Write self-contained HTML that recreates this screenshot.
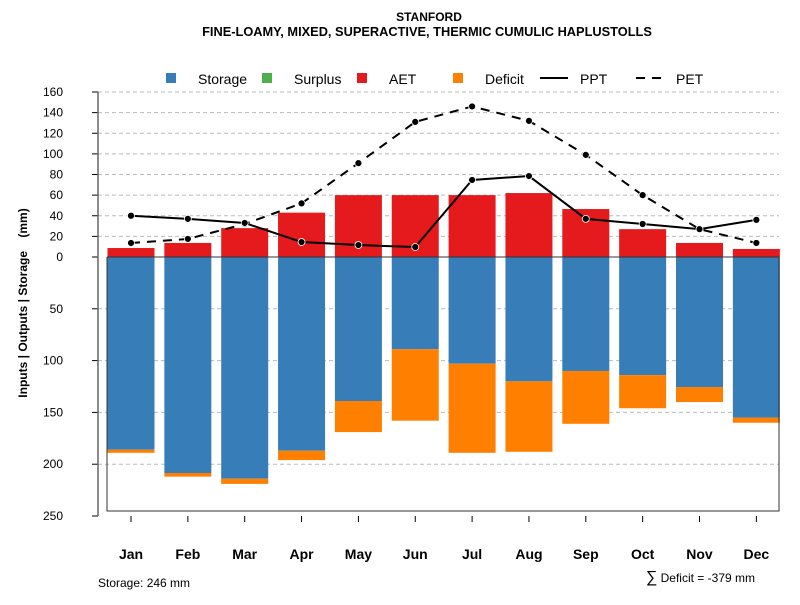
<!DOCTYPE html>
<html><head><meta charset="utf-8"><style>
body{margin:0;background:#fff}
svg text{font-family:"Liberation Sans",Arial,sans-serif}
</style></head><body>
<svg id="c" width="800" height="600" xmlns="http://www.w3.org/2000/svg">
<text x="429" y="21" text-anchor="middle" font-size="12" font-weight="bold">STANFORD</text>
<text x="427" y="36" text-anchor="middle" font-size="12.8" font-weight="bold">FINE-LOAMY, MIXED, SUPERACTIVE, THERMIC CUMULIC HAPLUSTOLLS</text>
<g id="legend">
<rect x="166" y="73" width="10" height="10" fill="#377eb8"/>
<text x="198" y="84" font-size="14">Storage</text>
<rect x="262" y="73" width="10" height="10" fill="#4daf4a"/>
<text x="294" y="84" font-size="14">Surplus</text>
<rect x="357" y="73" width="10" height="10" fill="#e41a1c"/>
<text x="389" y="84" font-size="14">AET</text>
<rect x="453" y="73" width="10" height="10" fill="#ff7f00"/>
<text x="485" y="84" font-size="14">Deficit</text>
<line x1="540" y1="78" x2="568" y2="78" stroke="#000" stroke-width="2"/>
<text x="580" y="84" font-size="14">PPT</text>
<line x1="636" y1="78" x2="666" y2="78" stroke="#000" stroke-width="2" stroke-dasharray="9,7"/>
<text x="676" y="84" font-size="14">PET</text>
</g>
<text transform="translate(27,303) rotate(-90)" text-anchor="middle" font-size="12" font-weight="bold">Inputs | Outputs | Storage&#160;&#160;&#160;&#160;(mm)</text>
<text x="98" y="587" font-size="12">Storage: 246 mm</text>
<text x="755" y="582" text-anchor="end" font-size="12"><tspan font-size="16">∑</tspan> Deficit = -379 mm</text>
<g id="grid"></g><g id="bars"></g><g id="lines"></g><g id="axes"></g>
</svg>
<script>
const months=["Jan","Feb","Mar","Apr","May","Jun","Jul","Aug","Sep","Oct","Nov","Dec"];
const aet=[8.7,13.6,28,43,60,60,60,62,46.5,27,13.6,7.8];
const storage=[186,208.5,214,187,139,89,103,120,110,114,125.5,155];
const deficit=[3,3.5,5,9,30,69,86,68,51,32,14.5,5];
const ppt=[40,37,33,14.5,11.6,9.7,74.7,78.5,37,32,27,36];
const pet=[13.6,17.5,32,52,91,131,146,132,99,60,27,13.6];
const topTicks=[0,20,40,60,80,100,120,140,160];
const botTicks=[50,100,150,200,250];
const NS="http://www.w3.org/2000/svg";
const y0=257;
const yUp=v=>y0-v*165/160;
const yDn=v=>y0+v*259/250;
const xc=i=>131+i*56.85;
const bw=47;
function mk(t,a,p){const e=document.createElementNS(NS,t);for(const k in a)e.setAttribute(k,a[k]);document.getElementById(p).appendChild(e);return e;}
topTicks.forEach(v=>{if(v>0){const g=mk('line',{x1:98,x2:779,y1:yUp(v),y2:yUp(v),stroke:'#bbb','stroke-dasharray':'4,3'},'grid');

}
const t=mk('line',{x1:92,x2:98,y1:yUp(v),y2:yUp(v),stroke:'#000'},'axes');


const l=mk('text',{x:63,y:yUp(v)+4,'text-anchor':'end','font-size':12},'axes');l.textContent=v;

});
botTicks.forEach(v=>{if(v<250){const g=mk('line',{x1:98,x2:779,y1:yDn(v),y2:yDn(v),stroke:'#bbb','stroke-dasharray':'4,3'},'grid');

}
const t=mk('line',{x1:92,x2:98,y1:yDn(v),y2:yDn(v),stroke:'#000'},'axes');


const l=mk('text',{x:63,y:yDn(v)+4,'text-anchor':'end','font-size':12},'axes');l.textContent=v;

});
const ax=mk('line',{x1:98,x2:98,y1:yUp(160),y2:yDn(250),stroke:'#666','stroke-width':1.5},'axes');


months.forEach((m,i)=>{const x=xc(i);
const a=mk('rect',{x:x-bw/2,y:yUp(aet[i]),width:bw,height:yUp(0)-yUp(aet[i]),fill:'#e41a1c'},'bars');


const s=mk('rect',{x:x-bw/2,y:y0,width:bw,height:yDn(storage[i])-y0,fill:'#377eb8'},'bars');


const d=mk('rect',{x:x-bw/2,y:yDn(storage[i]),width:bw,height:yDn(storage[i]+deficit[i])-yDn(storage[i]),fill:'#ff7f00'},'bars');


const t=mk('line',{x1:x,x2:x,y1:516,y2:522,stroke:'#000'},'axes');


const l=mk('text',{x:x,y:559,'text-anchor':'middle','font-size':14,'font-weight':'bold'},'axes');l.textContent=m;

});
const box=mk('path',{d:`M107,${y0} V511 H779 V${y0}`,fill:'none',stroke:'#333'},'axes');


const zl=mk('line',{x1:107,x2:779,y1:y0,y2:y0,stroke:'#333'},'axes');


function series(arr,name,dash){
const p=mk('polyline',{points:arr.map((v,i)=>xc(i)+','+yUp(v)).join(' '),fill:'none',stroke:'#000','stroke-width':2,'stroke-dasharray':dash},'lines');


arr.forEach((v,i)=>{const c=mk('circle',{cx:xc(i),cy:yUp(v),r:3.5,fill:'#000',stroke:'#fff','stroke-width':0.8},'lines');

});}
series(pet,'pet','9,7');
series(ppt,'ppt','none');
</script>
</body></html>
